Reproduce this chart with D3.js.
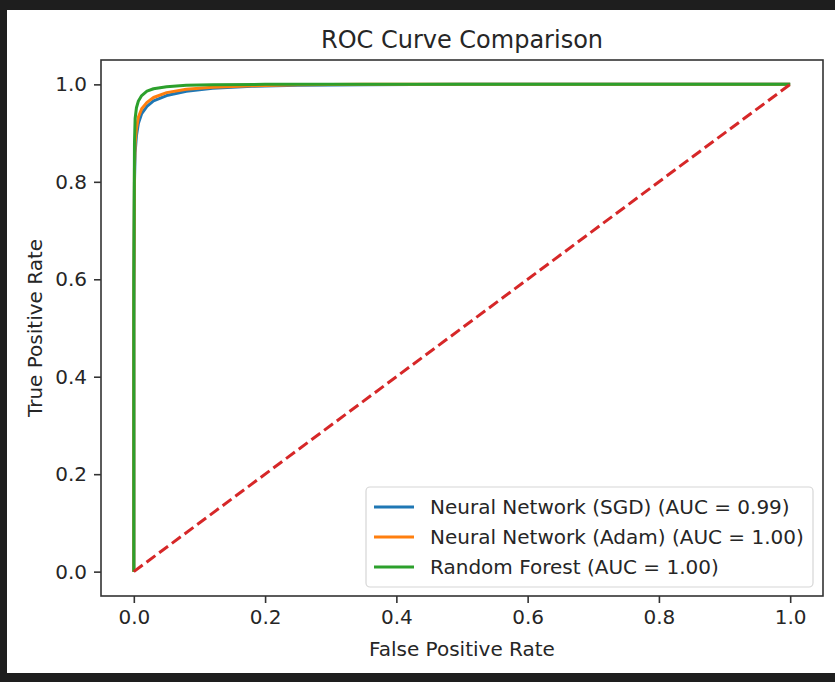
<!DOCTYPE html>
<html>
<head>
    <meta charset="utf-8">
    <title>ROC Curve Comparison</title>
    <script src="https://cdn.jsdelivr.net/npm/d3@7"></script>
    <style>
        body {
            margin: 0;
            background: #1e1e1e;
        }

        svg text {
            font-family: "DejaVu Sans", sans-serif;
            fill: #262626;
        }

        .axis text {
            font-size: 20px;
        }

        .axis line {
            stroke: #333;
            stroke-width: 1.6px;
        }

        .axis path {
            display: none;
        }

        .roc {
            fill: none;
            stroke-width: 3px;
        }
    </style>
</head>

<body>

<script type="text/javascript">
    var width = 835,
        height = 682;

    // curve points
    var sgdFpr = [0, 0, 0.001, 0.002, 0.004, 0.007, 0.012, 0.02, 0.03, 0.05, 0.08, 0.12, 0.18, 0.25, 0.35, 0.5, 0.7, 1.0];
    var sgdTpr = [0, 0.5, 0.8, 0.86, 0.895, 0.92, 0.94, 0.955, 0.966, 0.977, 0.986, 0.992, 0.996, 0.998, 0.999, 1, 1, 1];

    var adamFpr = [0, 0, 0.001, 0.002, 0.004, 0.007, 0.012, 0.02, 0.03, 0.05, 0.08, 0.12, 0.18, 0.25, 0.35, 0.5, 1.0];
    var adamTpr = [0, 0.55, 0.83, 0.88, 0.91, 0.933, 0.95, 0.963, 0.973, 0.983, 0.99, 0.994, 0.997, 0.999, 1, 1, 1];

    var rfFpr = [0, 0, 0.001, 0.002, 0.004, 0.007, 0.012, 0.02, 0.03, 0.05, 0.08, 0.12, 0.2, 1.0];
    var rfTpr = [0, 0.6, 0.88, 0.93, 0.952, 0.966, 0.977, 0.986, 0.991, 0.995, 0.998, 0.999, 1, 1];

    var seriesNames = ["Neural Network (SGD) (AUC = 0.99)",
        "Neural Network (Adam) (AUC = 1.00)",
        "Random Forest (AUC = 1.00)"];
    var seriesColors = ["#1f77b4", "#ff7f0e", "#2ca02c"];

    var diagonal = [[0, 0], [1, 1]];
    var tickValues = [0, 0.2, 0.4, 0.6, 0.8, 1.0];

    var series = [
        d3.zip(sgdFpr, sgdTpr),
        d3.zip(adamFpr, adamTpr),
        d3.zip(rfFpr, rfTpr)
    ];

    var plot = {left: 101, right: 823, top: 60, bottom: 596};

    var x = d3.scaleLinear().domain([-0.05, 1.05]).range([plot.left, plot.right]);
    var y = d3.scaleLinear().domain([-0.05, 1.05]).range([plot.bottom, plot.top]);

    var svg = d3.select("body").append("svg")
        .attr("width", width)
        .attr("height", height)
        .style("display", "block");

    // dark screenshot frame, white figure
    svg.append("rect").attr("width", width).attr("height", height).attr("fill", "#1e1e1e");
    svg.append("rect").attr("x", 7).attr("y", 10)
        .attr("width", width - 7).attr("height", 663).attr("fill", "#fff");

    svg.append("g").attr("class", "axis")
        .attr("transform", "translate(0," + plot.bottom + ")")
        .call(d3.axisBottom(x).tickValues(tickValues).tickFormat(d3.format(".1f"))
            .tickSize(7).tickPadding(7));

    svg.append("g").attr("class", "axis")
        .attr("transform", "translate(" + plot.left + ",0)")
        .call(d3.axisLeft(y).tickValues(tickValues).tickFormat(d3.format(".1f"))
            .tickSize(7).tickPadding(7));

    var line = d3.line()
        .x(function (d) { return x(d[0]); })
        .y(function (d) { return y(d[1]); });

    var clip = svg.append("clipPath").attr("id", "clip")
        .append("rect")
        .attr("x", plot.left).attr("y", plot.top)
        .attr("width", plot.right - plot.left).attr("height", plot.bottom - plot.top);

    var lines = svg.append("g").attr("clip-path", "url(#clip)");

    series.forEach(function (s, i) {
        lines.append("path")
            .datum(s)
            .attr("class", "roc")
            .attr("stroke", seriesColors[i])
            .attr("stroke-linejoin", "round")
            .attr("d", line);
    });

    lines.append("path")
        .datum(diagonal)
        .attr("class", "roc")
        .attr("stroke", "#d62728")
        .attr("stroke-dasharray", "11,4.8")
        .attr("d", line);

    // spines
    svg.append("rect")
        .attr("x", plot.left).attr("y", plot.top)
        .attr("width", plot.right - plot.left).attr("height", plot.bottom - plot.top)
        .attr("fill", "none")
        .attr("stroke", "#333")
        .attr("stroke-width", 1.6);

    svg.append("text")
        .attr("x", (plot.left + plot.right) / 2)
        .attr("y", 48)
        .attr("text-anchor", "middle")
        .style("font-size", "24px")
        .text("ROC Curve Comparison");

    svg.append("text")
        .attr("x", (plot.left + plot.right) / 2)
        .attr("y", 656)
        .attr("text-anchor", "middle")
        .style("font-size", "20px")
        .text("False Positive Rate");

    svg.append("text")
        .attr("transform", "translate(42," + (plot.top + plot.bottom) / 2 + ") rotate(-90)")
        .attr("text-anchor", "middle")
        .style("font-size", "20px")
        .text("True Positive Rate");

    // legend
    var legend = svg.append("g");
    legend.append("rect")
        .attr("x", 366).attr("y", 487)
        .attr("width", 447).attr("height", 100)
        .attr("rx", 4)
        .attr("fill", "#fff").attr("fill-opacity", 0.8)
        .attr("stroke", "#d6d6d6").attr("stroke-width", 1.2);

    seriesNames.forEach(function (name, i) {
        var ly = 507 + i * 30;
        legend.append("line")
            .attr("x1", 374).attr("x2", 414)
            .attr("y1", ly).attr("y2", ly)
            .attr("stroke", seriesColors[i])
            .attr("stroke-width", 3);
        legend.append("text")
            .attr("x", 430).attr("y", ly + 7)
            .style("font-size", "20px")
            .text(name);
    });
</script>

</body>
</html>
